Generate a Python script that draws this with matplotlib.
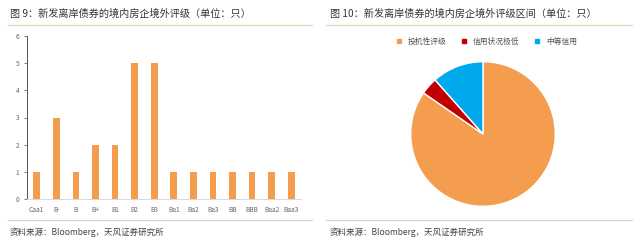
import numpy as np
import matplotlib
matplotlib.use('Agg')
from matplotlib import pyplot as plt
from matplotlib.lines import Line2D

plt.rcParams['font.family'] = ['Noto Sans CJK SC', 'DejaVu Sans']

ratings = ['Caa1', 'B-', 'B', 'B+', 'B1', 'B2', 'B3', 'Ba1', 'Ba2', 'Ba3', 'BB', 'BBB', 'Baa2', 'Baa3']
counts = [1, 3, 1, 2, 2, 5, 5, 1, 1, 1, 1, 1, 1, 1]

pie_labels = ['投机性评级', '信用状况极低', '中等信用']
pie_values = [22, 1, 3]
pie_colors = ['#F59D4F', '#C00000', '#00A9EC']

bar_color = '#F59D4F'
W, H = 640, 248

fig = plt.figure(figsize=(6.4, 2.48), dpi=100)

# titles and separator lines
fig.text(10 / W, 1 - 14 / H, '图 9：新发离岸债券的境内房企境外评级（单位：只）',
         fontsize=7.3, color='#333333', va='center')
fig.text(330 / W, 1 - 14 / H, '图 10：新发离岸债券的境内房企境外评级区间（单位：只）',
         fontsize=7.3, color='#333333', va='center')
for x0, x1 in [(8, 312), (326, 632)]:
    fig.add_artist(Line2D([x0 / W, x1 / W], [1 - 25 / H] * 2, color='#E6DDBF', lw=1.0))
    fig.add_artist(Line2D([x0 / W, x1 / W], [1 - 220 / H] * 2, color='#D6D6D6', lw=0.9))
fig.text(10 / W, 1 - 232 / H, '资料来源：Bloomberg，天风证券研究所',
         fontsize=6.1, color='#444444', va='center')
fig.text(330 / W, 1 - 232 / H, '资料来源：Bloomberg，天风证券研究所',
         fontsize=6.1, color='#444444', va='center')

# bar chart
ax = fig.add_axes([27 / W, 1 - 199 / H, 274 / W, 163 / H])
x = np.arange(len(ratings))
ax.bar(x, counts, width=0.34, color=bar_color)
ax.set_xlim(-0.5, len(ratings) - 0.5)
ax.set_ylim(0, 6)
ax.set_yticks(range(7))
ax.set_xticks(x)
ax.set_xticklabels(ratings)
ax.tick_params(axis='both', labelsize=4.8, colors='#666666', length=2, width=0.6)
ax.tick_params(axis='x', length=0, pad=5)
for s in ['top', 'right']:
    ax.spines[s].set_visible(False)
ax.spines['left'].set_color('#555555')
ax.spines['left'].set_linewidth(0.7)
ax.spines['bottom'].set_color('#D9D9D9')
ax.spines['bottom'].set_linewidth(0.7)

# pie chart
pax = fig.add_axes([410 / W, 1 - 207 / H, 146 / W, 146 / H])
pax.pie(pie_values, colors=pie_colors, startangle=90, counterclock=False,
        wedgeprops=dict(edgecolor='white', linewidth=1.0))
pax.set_xlim(-1.01, 1.01)
pax.set_ylim(-1.01, 1.01)
pax.set_aspect('equal')

handles = [Line2D([], [], marker='s', ls='', color=c, markersize=2.5) for c in pie_colors]
fig.legend(handles, pie_labels, loc='center', bbox_to_anchor=(484 / W, 1 - 42 / H),
           ncol=3, frameon=False, fontsize=5.6, handletextpad=0.2, columnspacing=1.2,
           labelcolor='#555555')

fig.savefig('out.png', dpi=100)
